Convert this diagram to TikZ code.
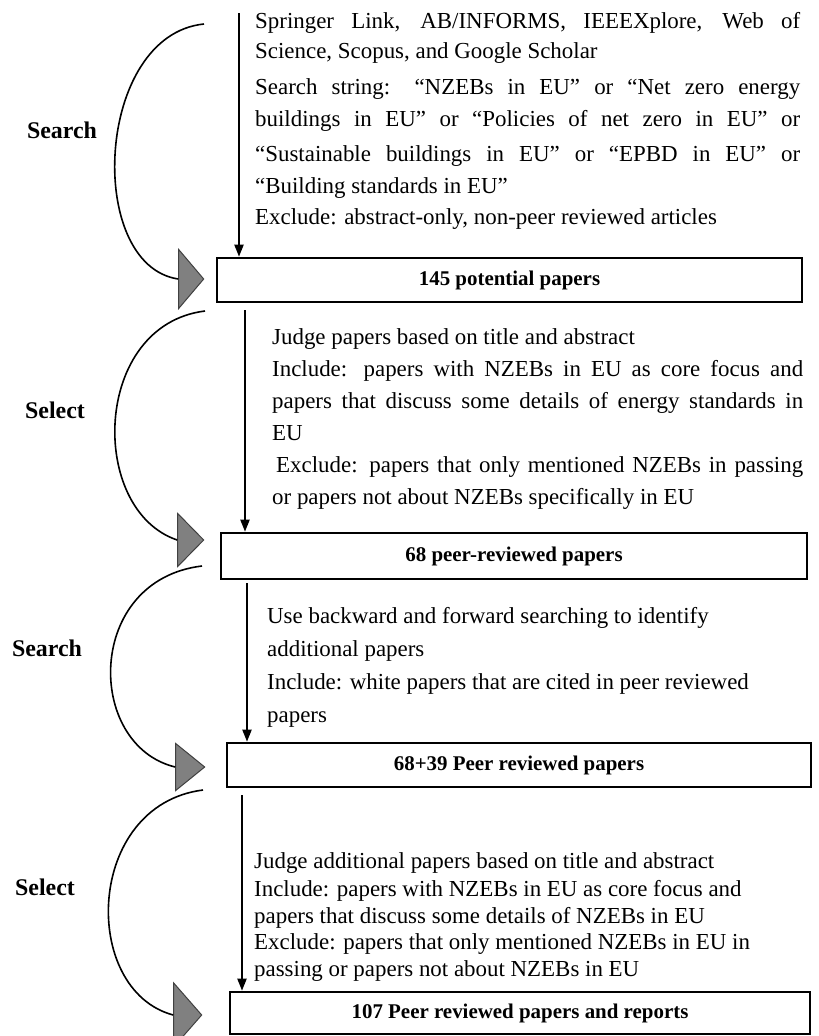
\documentclass[tikz,border=0pt]{standalone}
\usepackage{fontspec}
\setmainfont{Liberation Serif}
\usetikzlibrary{arrows.meta,shapes.geometric}
\begin{document}
\begin{tikzpicture}[x=1bp,y=-1bp,
  txt/.style={anchor=base west, inner sep=0pt, font=\fontsize{23}{27}\selectfont},
  lbl/.style={inner sep=0pt, font=\fontsize{24}{28}\selectfont\bfseries},
  stagebox/.style={draw, line width=2.6bp, inner sep=0pt, font=\fontsize{21}{25}\selectfont\bfseries},
  tri/.style={isosceles triangle, isosceles triangle stretches=true, shape border rotate=0,
              inner sep=0pt, fill=black!50, draw=black!75, line width=1bp, anchor=apex},
  flow/.style={line width=2bp, -{Triangle[length=12bp,width=9bp]}},
  loopline/.style={line width=1.6bp}
]
\useasboundingbox (0,0) rectangle (819,1036);
\begin{scope}
\clip (0,0) rectangle (819,1036);

% boxes
\node[stagebox, minimum width=585bp, minimum height=44bp] (b1) at (509.5,280) {145 potential papers};
\node[stagebox, minimum width=586bp, minimum height=46bp] (b2) at (514,556) {68 peer-reviewed papers};
\node[stagebox, minimum width=584bp, minimum height=44bp] (b3) at (519,765) {68+39 Peer reviewed papers};
\node[stagebox, minimum width=580bp, minimum height=42bp] (b4) at (520,1013) {107 Peer reviewed papers and reports};

% triangles (height = apex length, width = base)
\node[tri, minimum height=25bp, minimum width=59bp] (t1) at (205,279) {};
\node[tri, minimum height=26bp, minimum width=53bp] (t2) at (205,540) {};
\node[tri, minimum height=29bp, minimum width=47bp] (t3) at (206,767) {};
\node[tri, minimum height=28bp, minimum width=64bp] (t4) at (203,1015) {};

% stage labels
\node[lbl] (l1) at (62,130) {Search};
\node[lbl] (l2) at (55,410) {Select};
\node[lbl] (l3) at (47,648) {Search};
\node[lbl] (l4) at (45,887) {Select};

% vertical flow arrows
\coordinate (a1s) at (239,13);
\coordinate (a2s) at (245,310);
\coordinate (a3s) at (247,583);
\coordinate (a4s) at (242,795);
\draw[flow] (a1s) -- (a1s |- b1.north);
\draw[flow] (a2s) -- (a2s |- b2.north);
\draw[flow] (a3s) -- (a3s |- b3.north);
\draw[flow] (a4s) -- (a4s |- b4.north);

% curved loops
\coordinate (c1s) at (204,24);
\coordinate (c2s) at (205,311);
\coordinate (c3s) at (202,566);
\coordinate (c4s) at (203,790);
\draw[loopline] (c1s) .. controls (95,35) and (85,265) .. (t1.lower side);
\draw[loopline] (c2s) .. controls (92,325) and (88,510) .. (t2.lower side);
\draw[loopline] (c3s) .. controls (85,580) and (85,745) .. (t3.lower side);
\draw[loopline] (c4s) .. controls (85,805) and (80,990) .. (t4.lower side);

% block 1
\node[txt] (p1a) at (255,28) {\makebox[545bp][s]{Springer Link, AB/INFORMS, IEEEXplore, Web of}};
\node[txt] (p1b) at (255,58) {Science, Scopus, and Google Scholar};
\node[txt] (p1c) at (255,94) {\makebox[545bp][s]{Search string: “NZEBs in EU” or “Net zero energy}};
\node[txt] (p1d) at (255,126) {\makebox[545bp][s]{buildings in EU” or “Policies of net zero in EU” or}};
\node[txt] (p1e) at (255,161) {\makebox[545bp][s]{“Sustainable buildings in EU” or “EPBD in EU” or}};
\node[txt] (p1f) at (255,193) {“Building standards in EU”};
\node[txt] (p1g) at (255,224) {Exclude: abstract-only, non-peer reviewed articles};

% block 2
\node[txt] (p2a) at (272,344) {Judge papers based on title and abstract};
\node[txt] (p2b) at (272,376) {\makebox[531bp][s]{Include: papers with NZEBs in EU as core focus and}};
\node[txt] (p2c) at (272,408) {\makebox[531bp][s]{papers that discuss some details of energy standards in}};
\node[txt] (p2d) at (272,440) {EU};
\node[txt] (p2e) at (276,472) {\makebox[527bp][s]{Exclude: papers that only mentioned NZEBs in passing}};
\node[txt] (p2f) at (272,504) {or papers not about NZEBs specifically in EU};

% block 3
\node[txt] (p3a) at (267,623) {Use backward and forward searching to identify};
\node[txt] (p3b) at (267,656) {additional papers};
\node[txt] (p3c) at (267,689) {Include: white papers that are cited in peer reviewed};
\node[txt] (p3d) at (267,722) {papers};

% block 4
\node[txt] (p4a) at (254,868) {Judge additional papers based on title and abstract};
\node[txt] (p4b) at (254,896) {Include: papers with NZEBs in EU as core focus and};
\node[txt] (p4c) at (254,923) {papers that discuss some details of NZEBs in EU};
\node[txt] (p4d) at (254,949) {Exclude: papers that only mentioned NZEBs in EU in};
\node[txt] (p4e) at (254,976) {passing or papers not about NZEBs in EU};
\end{scope}
\end{tikzpicture}
\end{document}
